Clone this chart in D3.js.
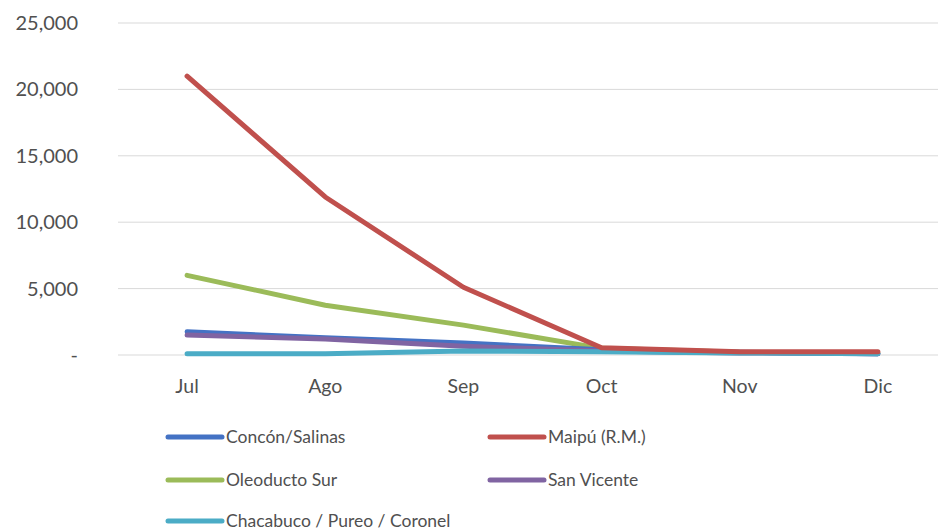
<!DOCTYPE html>
<html>
<head>
<meta charset="utf-8">
<script src="https://cdn.jsdelivr.net/npm/d3@7"></script>
<style>
  html, body { margin: 0; padding: 0; background: #fff; }
  svg { display: block; }
  text { font-family: Lato, "Open Sans", sans-serif; fill: #505050; }
</style>
</head>
<body>
<svg id="chart" width="938" height="532"></svg>
<script>
const months = ["Jul", "Ago", "Sep", "Oct", "Nov", "Dic"];
const yTicks = [0, 5000, 10000, 15000, 20000, 25000];

const seriesNames = ["Concón/Salinas", "Maipú (R.M.)", "Oleoducto Sur", "San Vicente", "Chacabuco / Pureo / Coronel"];
const seriesColors = ["#4472C4", "#C0504D", "#9BBB59", "#8064A2", "#4BACC6"];

const conconSalinas = [1750, 1300, 900, 400, 200, 100];
const maipu = [21000, 11900, 5100, 550, 250, 250];
const oleoductoSur = [6000, 3750, 2250, 500, 200, 150];
const sanVicente = [1500, 1200, 650, 300, 150, 100];
const chacabuco = [100, 100, 300, 250, 150, 100];

const seriesValues = [conconSalinas, maipu, oleoductoSur, sanVicente, chacabuco];
// painting order of the lines
const drawOrder = [2, 0, 3, 4, 1];

const svg = d3.select("#chart");

const x = d3.scalePoint().domain(months).range([118, 947]).padding(0.5);
const y = d3.scaleLinear().domain([0, 25000]).range([355, 23]);

// horizontal gridlines
svg.append("g")
  .selectAll("line")
  .data(yTicks)
  .join("line")
  .attr("x1", 118).attr("x2", 938)
  .attr("y1", d => y(d)).attr("y2", d => y(d))
  .attr("stroke", "#d9d9d9").attr("stroke-width", 1);

// y axis labels
const fmt = d3.format(",");
svg.append("g")
  .selectAll("text")
  .data(yTicks)
  .join("text")
  .attr("x", 78)
  .attr("y", d => y(d))
  .attr("dy", "0.35em")
  .attr("text-anchor", "end")
  .attr("font-size", 20)
  .text(d => d === 0 ? "-" : fmt(d));

// x axis labels
svg.append("g")
  .selectAll("text")
  .data(months)
  .join("text")
  .attr("x", d => x(d))
  .attr("y", 386)
  .attr("dy", "0.35em")
  .attr("text-anchor", "middle")
  .attr("font-size", 19.5)
  .text(d => d);

// series lines
const line = d3.line()
  .x((d, i) => x(months[i]))
  .y(d => y(d));

svg.append("g")
  .selectAll("path")
  .data(drawOrder)
  .join("path")
  .attr("d", i => line(seriesValues[i]))
  .attr("fill", "none")
  .attr("stroke", i => seriesColors[i])
  .attr("stroke-width", 5)
  .attr("stroke-linejoin", "round")
  .attr("stroke-linecap", "round");

// legend
const legendPos = [
  [168, 437], [490, 437],
  [168, 480], [490, 480],
  [168, 521]
];
const lg = svg.append("g")
  .selectAll("g")
  .data(seriesNames)
  .join("g")
  .attr("transform", (d, i) => `translate(${legendPos[i][0]},${legendPos[i][1]})`);
lg.append("line")
  .attr("x1", 0).attr("x2", 54)
  .attr("stroke", (d, i) => seriesColors[i])
  .attr("stroke-width", 5)
  .attr("stroke-linecap", "round");
lg.append("text")
  .attr("x", 58)
  .attr("dy", "0.35em")
  .attr("font-size", 17.5)
  .text(d => d);
</script>
</body>
</html>
